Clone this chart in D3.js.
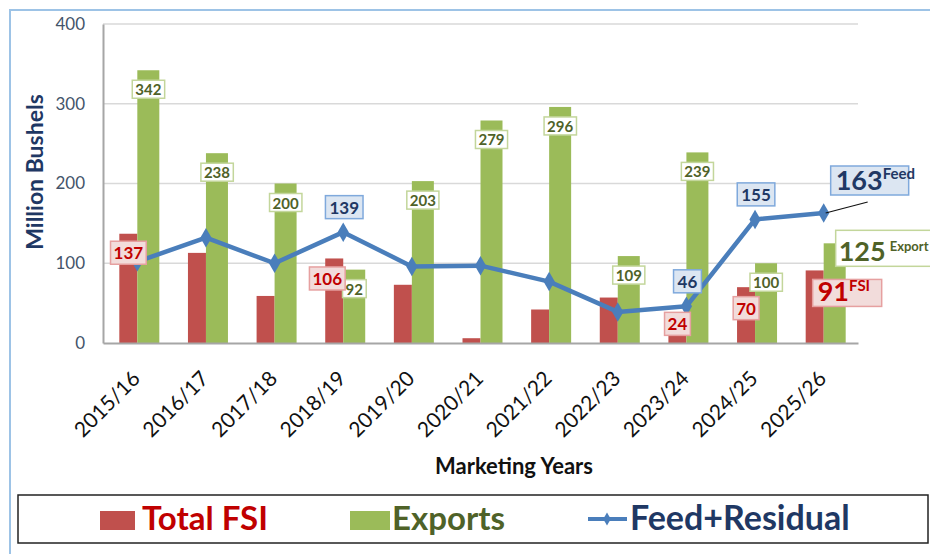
<!DOCTYPE html>
<html>
<head>
<meta charset="utf-8">
<script src="https://cdn.jsdelivr.net/npm/d3@7"></script>
<style>
  body { margin: 0; background: #fff; }
  svg { display: block; font-family: Lato, "Open Sans", sans-serif; }
</style>
</head>
<body>
<div id="chart"></div>
<script>
// marketing years and the three series (million bushels)
const years = ["2015/16", "2016/17", "2017/18", "2018/19", "2019/20", "2020/21",
               "2021/22", "2022/23", "2023/24", "2024/25", "2025/26"];
const totalFSI = [137, 113, 59, 106, 73, 6, 42, 57, 24, 70, 91];
const exportsVals = [342, 238, 200, 92, 203, 279, 296, 109, 239, 100, 125];
const feedResidual = [102, 132, 100, 139, 96, 97, 77, 39, 46, 155, 163];
const yTicks = [0, 100, 200, 300, 400];

// which points carry a value box (last year gets its own callouts)
const fsiLabelIdx = [0, 3, 8, 9];
const exportLabelIdx = [0, 1, 2, 3, 4, 5, 6, 7, 8, 9];
const feedLabelIdx = [3, 8, 9];

const W = 930, H = 554;
const red = "#c0504d", green = "#9bbb59", blue = "#4a7ebb";
const redText = "#c00000", greenText = "#4f6228", navy = "#1f3864";

const svg = d3.select("#chart").append("svg")
    .attr("width", W)
    .attr("height", H);

const x = d3.scaleBand().domain(years).range([103, 858]);
const y = d3.scaleLinear().domain([0, 400]).range([343, 24]);
const bw = x.bandwidth();
const cx = d => x(d) + bw / 2;

// outer frame (top + left edges visible)
svg.append("path")
    .attr("d", `M10,${H} L10,10 L${W},10`)
    .attr("fill", "none")
    .attr("stroke", "#9dc3e6")
    .attr("stroke-width", 2);

// gridlines
svg.append("g")
    .selectAll("line")
    .data(yTicks.filter(t => t > 0))
    .enter().append("line")
    .attr("x1", 103).attr("x2", 858)
    .attr("y1", d => y(d)).attr("y2", d => y(d))
    .attr("stroke", "#d9d9d9")
    .attr("stroke-width", 1.5);

// y axis
const yAxis = svg.append("g")
    .attr("transform", "translate(103,0)")
    .call(d3.axisLeft(y).tickValues(yTicks).tickSize(0).tickPadding(18));
yAxis.select(".domain").attr("stroke", "#a6a6a6").attr("stroke-width", 2);
yAxis.selectAll("text")
    .attr("font-size", 17)
    .attr("font-family", "Lato, sans-serif")
    .attr("fill", "#44546a");

svg.append("text")
    .attr("transform", "translate(43,172) rotate(-90)")
    .attr("text-anchor", "middle")
    .attr("font-size", 23)
    .attr("font-weight", "bold")
    .attr("fill", navy)
    .text("Million Bushels");

// bars
const bars = svg.append("g");
bars.selectAll("rect.fsi")
    .data(years)
    .enter().append("rect")
    .attr("class", "fsi")
    .attr("x", d => cx(d) - 18)
    .attr("width", 18)
    .attr("y", (d, i) => y(totalFSI[i]))
    .attr("height", (d, i) => y(0) - y(totalFSI[i]))
    .attr("fill", red);

bars.selectAll("rect.exp")
    .data(years)
    .enter().append("rect")
    .attr("class", "exp")
    .attr("x", d => cx(d))
    .attr("width", 22)
    .attr("y", (d, i) => y(exportsVals[i]))
    .attr("height", (d, i) => y(0) - y(exportsVals[i]))
    .attr("fill", green);

// x axis
const xAxis = svg.append("g")
    .attr("transform", "translate(0,343)")
    .call(d3.axisBottom(x).tickSize(0).tickPadding(0));
xAxis.select(".domain").attr("stroke", "#a6a6a6").attr("stroke-width", 2);
xAxis.selectAll("text")
    .attr("font-size", 21)
    .attr("font-family", "Lato, sans-serif")
    .attr("fill", "#111")
    .attr("text-anchor", "end")
    .attr("dy", 0)
    .attr("transform", "translate(4,37) rotate(-45)");

svg.append("text")
    .attr("x", 514).attr("y", 474)
    .attr("text-anchor", "middle")
    .attr("font-size", 22)
    .attr("font-weight", "bold")
    .attr("fill", "#111")
    .text("Marketing Years");

// feed + residual line
const line = d3.line()
    .x((d, i) => cx(years[i]))
    .y(d => y(d));

svg.append("path")
    .datum(feedResidual)
    .attr("d", line)
    .attr("fill", "none")
    .attr("stroke", blue)
    .attr("stroke-width", 4.5)
    .attr("stroke-linejoin", "round");

const diamond = d3.symbol().type(d3.symbolDiamond).size(110);
svg.append("g")
    .selectAll("path")
    .data(feedResidual)
    .enter().append("path")
    .attr("d", diamond)
    .attr("transform", (d, i) => `translate(${cx(years[i])},${y(d)})`)
    .attr("fill", blue);

// leader line for the last feed value
const lastI = years.length - 1;
svg.append("line")
    .attr("x1", cx(years[lastI]) + 2).attr("y1", y(feedResidual[lastI]))
    .attr("x2", cx(years[lastI]) + 44).attr("y2", y(feedResidual[lastI]) - 11)
    .attr("stroke", "#111")
    .attr("stroke-width", 1.2);

// value box helper
function valueBox(g, px, py, txt, size, fg, bg, border, padX, padY) {
    const grp = g.append("g").attr("transform", `translate(${px},${py})`);
    const t = grp.append("text")
        .attr("text-anchor", "middle")
        .attr("dominant-baseline", "central")
        .attr("font-size", size)
        .attr("font-weight", "bold")
        .attr("fill", fg)
        .text(txt);
    const b = t.node().getBBox();
    grp.insert("rect", "text")
        .attr("x", b.x - padX).attr("y", b.y - padY + 1)
        .attr("width", b.width + 2 * padX).attr("height", b.height + 2 * padY - 2)
        .attr("fill", bg)
        .attr("stroke", border)
        .attr("stroke-width", 1.5);
}

const labels = svg.append("g");

// export labels sit just inside the bar top
exportLabelIdx.forEach(i => {
    valueBox(labels, cx(years[i]) + 11, y(exportsVals[i]) + 19, exportsVals[i],
        15, greenText, "#ffffff", "#c3d69b", 3, 1);
});

// FSI labels (2023/24 bar is too short, label centred on its top)
const fsiDy = { 0: 19, 3: 20, 8: 0, 9: 21 };
const fsiDx = { 0: 0, 3: -7, 8: 0, 9: 0 };
fsiLabelIdx.forEach(i => {
    valueBox(labels, cx(years[i]) - 9 + fsiDx[i], y(totalFSI[i]) + fsiDy[i], totalFSI[i],
        17, redText, "#f2dcdb", "#e6a0a0", 3, 2);
});

// feed labels above the line
feedLabelIdx.forEach(i => {
    valueBox(labels, cx(years[i]) + 1, y(feedResidual[i]) - 25, feedResidual[i],
        17, navy, "#dce6f2", "#7fa9dc", 4, 2);
});

// callouts for the latest year
function callout(px, py, w, h, big, bigSize, small, smallSize, fg, bg, border, gap, tx) {
    const grp = labels.append("g").attr("transform", `translate(${px},${py})`);
    grp.append("rect")
        .attr("width", w).attr("height", h)
        .attr("fill", bg)
        .attr("stroke", border)
        .attr("stroke-width", 1.5);
    const t = grp.append("text")
        .attr("x", tx).attr("y", h - 5)
        .attr("font-weight", "bold")
        .attr("fill", fg);
    t.append("tspan").attr("font-size", bigSize).text(big);
    t.append("tspan").attr("font-size", smallSize).attr("dx", gap).attr("dy", -bigSize * 0.4).text(small);
}

const lx = cx(years[lastI]);
callout(lx + 7, y(feedResidual[lastI]) - 47, 78, 29, feedResidual[lastI], 27, "Feed", 15,
    navy, "#dce6f2", "#7fa9dc", 0, 5);
callout(lx + 12, y(exportsVals[lastI]) - 13, 110, 36, exportsVals[lastI], 27, "Export", 13,
    greenText, "#ffffff", "#c3d69b", 4, 3);
callout(lx - 11, y(totalFSI[lastI]) + 9, 69, 27, totalFSI[lastI], 27, "FSI", 15,
    redText, "#f2dcdb", "#e6a0a0", 0, 5);

// legend
const leg = svg.append("g");
leg.append("rect")
    .attr("x", 18).attr("y", 495)
    .attr("width", 910).attr("height", 48)
    .attr("fill", "#fff")
    .attr("stroke", "#222")
    .attr("stroke-width", 1.5);

leg.append("rect").attr("x", 100).attr("y", 511).attr("width", 35).attr("height", 19).attr("fill", red);
leg.append("text").attr("x", 142).attr("y", 530)
    .attr("font-size", 33).attr("font-weight", "bold").attr("fill", redText)
    .text("Total FSI");

leg.append("rect").attr("x", 350).attr("y", 511).attr("width", 40).attr("height", 19).attr("fill", green);
leg.append("text").attr("x", 392).attr("y", 530)
    .attr("font-size", 33).attr("font-weight", "bold").attr("fill", greenText)
    .text("Exports");

leg.append("line").attr("x1", 588).attr("x2", 627).attr("y1", 519).attr("y2", 519)
    .attr("stroke", blue).attr("stroke-width", 4);
leg.append("path").attr("d", d3.symbol().type(d3.symbolDiamond).size(50))
    .attr("transform", "translate(607,519)").attr("fill", blue);
leg.append("text").attr("x", 630).attr("y", 530)
    .attr("font-size", 34).attr("font-weight", "bold").attr("fill", navy)
    .text("Feed+Residual");
</script>
</body>
</html>
